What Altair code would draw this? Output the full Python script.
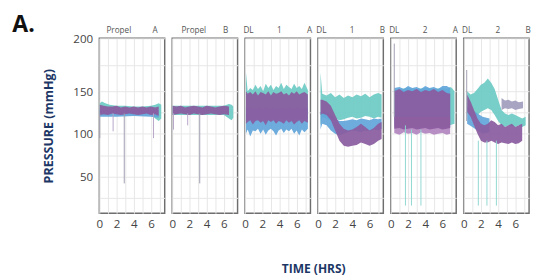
import altair as alt
import pandas as pd

NB = "\u00a0"
PANEL_LABELS = [
    NB * 15 + "Propel" + NB * 10 + "A",
    NB * 15 + "Propel" + NB * 8 + "B",
    NB * 2 + "DL" + NB * 11 + "1" + NB * 12 + "A",
    NB * 2 + "DL" + NB * 11 + "1" + NB * 12 + "B",
    NB * 2 + "DL" + NB * 11 + "2" + NB * 12 + "A",
    NB * 2 + "DL" + NB * 11 + "2" + NB * 12 + "B",
]

# ---- band series: panel index, series, times, low, high (mmHg) ----
P1_T = [0.05, 0.5, 1, 1.5, 2, 2.5, 3, 3.5, 4, 4.5, 5, 5.5, 6, 6.5, 6.9]
P1_PUR_LO = [122, 123, 122, 124, 123, 122, 123, 124, 123, 122, 123, 124, 122, 123, 121]
P1_PUR_HI = [134, 133, 132, 132, 133, 131, 132, 131, 132, 131, 132, 131, 132, 131, 132]
P1_TEAL_T = [0.05, 0.3, 0.7, 1.2, 2, 3, 4, 5, 6, 6.5, 6.9, 7.2]
P1_TEAL_LO = [122, 122, 123, 123, 123, 123, 123, 123, 123, 118, 115, 118]
P1_TEAL_HI = [136, 138, 136, 134, 133, 133, 132, 132, 133, 134, 136, 134]
P1_BLUE_T = [0.05, 2, 4, 6, 6.9]
P1_BLUE_LO = [120, 120, 121, 120, 119]
P1_BLUE_HI = [128, 128, 128, 128, 128]

P2_T = [0.05, 0.5, 1, 1.5, 2, 2.5, 3, 3.5, 4, 4.5, 5, 5.5, 6, 6.6]
P2_PUR_LO = [122, 123, 124, 123, 122, 124, 123, 122, 123, 124, 123, 122, 123, 122]
P2_PUR_HI = [133, 132, 133, 131, 132, 133, 132, 131, 133, 132, 131, 132, 133, 132]
P2_TEAL_T = [0.05, 2, 4, 6, 6.6, 6.9, 7.1]
P2_TEAL_LO = [122, 122, 122, 122, 118, 116, 119]
P2_TEAL_HI = [133, 133, 133, 133, 135, 134, 132]

P3_T = [0.1, 0.3, 0.6, 0.9, 1.2, 1.5, 1.8, 2.1, 2.4, 2.7, 3, 3.3, 3.6, 3.9, 4.2, 4.5,
        4.8, 5.1, 5.4, 5.7, 6, 6.3, 6.6, 6.9, 7.3]
P3_TEAL_HI = [168, 150, 153, 151, 156, 152, 155, 150, 157, 153, 156, 151, 155, 153, 158, 152,
              156, 154, 152, 157, 153, 155, 152, 158, 151]
P3_TEAL_LO = [115, 116, 117, 116, 118, 117, 116, 118, 117, 116, 118, 117, 116, 117, 118, 116,
              117, 118, 116, 117, 118, 116, 117, 118, 117]
P3_BLUE_HI = [132, 130, 131, 130, 129, 131, 130, 129, 131, 130, 129, 131, 130, 129, 131, 130,
              129, 131, 130, 129, 131, 130, 129, 131, 130]
P3_BLUE_LO = [100, 105, 97, 104, 103, 106, 100, 105, 99, 104, 106, 103, 98, 104, 106, 101,
              105, 103, 106, 100, 104, 98, 105, 102, 106]
P3_PUR_HI = [150, 147, 149, 146, 150, 145, 149, 148, 146, 150, 145, 149, 147, 148, 150, 146,
             148, 145, 149, 147, 150, 146, 148, 149, 146]
P3_PUR_LO = [112, 114, 116, 111, 115, 116, 113, 115, 110, 116, 114, 116, 112, 115, 114, 112,
             116, 113, 115, 111, 114, 116, 112, 115, 113]

P4_T = [0.3, 0.5, 1, 1.5, 2, 2.5, 3, 3.5, 4, 4.5, 5, 5.5, 6, 6.5, 7, 7.4]
P4_TEAL_HI = [168, 147, 145, 148, 143, 146, 142, 145, 143, 146, 144, 147, 143, 146, 148, 146]
P4_TEAL_LO = [110, 120, 118, 115, 118, 116, 117, 119, 120, 118, 119, 121, 120, 118, 120, 119]
P4_BLUE_HI = [125, 128, 126, 122, 118, 115, 115, 116, 117, 116, 118, 117, 116, 118, 117, 118]
P4_BLUE_LO = [105, 112, 110, 104, 100, 98, 100, 102, 104, 103, 102, 104, 103, 105, 104, 106]
P4_PUR_HI = [140, 140, 138, 133, 122, 112, 106, 104, 105, 108, 112, 108, 104, 107, 112, 114]
P4_PUR_LO = [122, 124, 122, 116, 104, 92, 86, 85, 86, 87, 90, 88, 86, 88, 92, 94]

P5_T = [0.4, 1, 1.5, 2, 2.5, 3, 3.5, 4, 4.5, 5, 5.5, 6, 6.5, 6.9]
P5_TEAL_T = [0.4, 1, 2, 3, 4, 5, 6, 6.5, 6.9, 7.1, 7.4]
P5_TEAL_HI = [151, 152, 153, 152, 153, 152, 153, 152, 154, 153, 150]
P5_TEAL_LO = [112, 112, 112, 112, 112, 112, 112, 112, 110, 111, 112]
P5_BLUE_HI = [153, 154, 152, 155, 153, 154, 152, 155, 153, 154, 152, 155, 155, 153]
P5_BLUE_LO = [108, 108, 108, 108, 108, 108, 108, 108, 108, 108, 108, 108, 108, 108]
P5_PINK_HI = [120, 120, 120, 120, 120, 120, 120, 120, 120, 120, 120, 120, 120, 120]
P5_PINK_LO = [101, 99, 102, 100, 101, 99, 102, 100, 101, 99, 100, 101, 99, 100]
P5_PUR_HI = [150, 152, 149, 151, 150, 152, 149, 151, 150, 152, 149, 151, 148, 147]
P5_PUR_LO = [106, 107, 105, 106, 107, 105, 106, 107, 105, 106, 107, 105, 106, 107]

P6_T = [0.4, 0.8, 1.2, 1.6, 2, 2.4, 2.8, 3.2, 3.6, 4, 4.4, 4.8, 5.2, 5.6, 6, 6.4, 6.8, 7.2]
P6_TEAL_HI = [150, 146, 148, 152, 156, 158, 162, 158, 152, 140, 128, 124, 122, 124, 122, 120, 118, 120]
P6_TEAL_LO = [125, 120, 118, 122, 126, 128, 130, 128, 122, 115, 110, 108, 110, 109, 108, 110, 108, 110]
P6_BLUE_T = [0.4, 1, 1.6, 2.2, 3]
P6_BLUE_HI = [132, 128, 124, 120, 118]
P6_BLUE_LO = [112, 108, 104, 100, 102]
P6_PUR_T = [0.4, 0.8, 1.2, 1.6, 2, 2.4, 2.8, 3.2, 3.6, 4, 4.4, 4.8, 5.2, 5.6, 6, 6.4, 6.8]
P6_PUR_HI = [146, 138, 128, 118, 112, 110, 112, 116, 114, 110, 112, 108, 110, 112, 108, 110, 112]
P6_PUR_LO = [126, 120, 110, 100, 92, 90, 90, 92, 90, 88, 90, 89, 88, 90, 88, 89, 92]
P6_LAV_T = [4.4, 4.8, 5.2, 5.6, 6, 6.4, 6.9]
P6_LAV_HI = [142, 139, 140, 138, 139, 137, 138]
P6_LAV_LO = [128, 130, 129, 130, 128, 129, 130]

# ---- spikes: panel index, time, low, high, kind ----
SPIKE_PANEL = [0, 0, 0, 0, 1, 1, 1, 4, 4, 4, 4, 5, 5, 5, 5]
SPIKE_T = [0.05, 1.6, 2.9, 6.3, 0.15, 1.8, 3.2, 0.4, 1.7, 2.4, 3.5, 0.35, 1.7, 2.7, 3.8]
SPIKE_LO = [95, 103, 42, 95, 105, 110, 42, 120, 16, 16, 16, 115, 16, 16, 16]
SPIKE_HI = [124, 124, 124, 124, 124, 124, 124, 195, 110, 105, 105, 170, 92, 92, 92]
SPIKE_KIND = ["sgrey", "slav", "sgrey", "slav", "slav", "slav", "sgrey",
              "sgrey", "steal", "steal", "steal", "sgrey", "steal", "steal", "steal"]

rows = []


def add(panel, series, ts, lo, hi):
    for t, a, b in zip(ts, lo, hi):
        rows.append({"panel": PANEL_LABELS[panel], "series": series, "t": t, "lo": a, "hi": b})


add(0, "teal", P1_TEAL_T, P1_TEAL_LO, P1_TEAL_HI)
add(0, "blue", P1_BLUE_T, P1_BLUE_LO, P1_BLUE_HI)
add(0, "purple", P1_T, P1_PUR_LO, P1_PUR_HI)
add(1, "teal", P2_TEAL_T, P2_TEAL_LO, P2_TEAL_HI)
add(1, "purple", P2_T, P2_PUR_LO, P2_PUR_HI)
add(2, "teal", P3_T, P3_TEAL_LO, P3_TEAL_HI)
add(2, "blue", P3_T, P3_BLUE_LO, P3_BLUE_HI)
add(2, "purple", P3_T, P3_PUR_LO, P3_PUR_HI)
add(3, "teal", P4_T, P4_TEAL_LO, P4_TEAL_HI)
add(3, "blue", P4_T, P4_BLUE_LO, P4_BLUE_HI)
add(3, "purple", P4_T, P4_PUR_LO, P4_PUR_HI)
add(4, "teal", P5_TEAL_T, P5_TEAL_LO, P5_TEAL_HI)
add(4, "blue", P5_T, P5_BLUE_LO, P5_BLUE_HI)
add(4, "pink", P5_T, P5_PINK_LO, P5_PINK_HI)
add(4, "purple", P5_T, P5_PUR_LO, P5_PUR_HI)
add(5, "teal", P6_T, P6_TEAL_LO, P6_TEAL_HI)
add(5, "blue", P6_BLUE_T, P6_BLUE_LO, P6_BLUE_HI)
add(5, "purple", P6_PUR_T, P6_PUR_LO, P6_PUR_HI)
add(5, "lav", P6_LAV_T, P6_LAV_LO, P6_LAV_HI)
for p, t, a, b, k in zip(SPIKE_PANEL, SPIKE_T, SPIKE_LO, SPIKE_HI, SPIKE_KIND):
    rows.append({"panel": PANEL_LABELS[p], "series": k, "t": t, "lo": a, "hi": b})

df = pd.DataFrame(rows)

COLORS = {"teal": "#6dcac3", "blue": "#61a5da", "pink": "#b286bf",
          "purple": "#8a5b9e", "lav": "#a19dbd"}

H = 182
xs = alt.X("t:Q", scale=alt.Scale(domain=[0, 7.6], nice=False),
           axis=alt.Axis(values=[0, 1, 2, 3, 4, 5, 6, 7], labelFlush=False,
                         labelExpr="datum.value % 2 === 0 ? datum.label : ''",
                         title=None))
ys = alt.Y("lo:Q", scale=alt.Scale(domain=[7, 150, 200], range=[H, 55, 0], nice=False, zero=False),
           axis=alt.Axis(values=[25, 50, 75, 100, 125, 150, 175, 200],
                         labelFlush=False, labelBaseline="middle",
                         labelExpr="datum.value % 50 === 0 ? datum.label : ''",
                         title="PRESSURE (mmHg)"))

layers = []
for s in ["teal", "blue", "pink", "purple", "lav"]:
    layers.append(
        alt.Chart().mark_area(color=COLORS[s], opacity=0.92)
        .encode(x=xs, y=ys, y2="hi:Q")
        .transform_filter(alt.datum.series == s)
    )
layers.append(
    alt.Chart().mark_rule(strokeWidth=1)
    .encode(x=xs, y=ys, y2="hi:Q",
            color=alt.Color("series:N", legend=None,
                            scale=alt.Scale(domain=["sgrey", "slav", "steal"],
                                            range=["#9d9db0", "#b6a4c8", "#8fd6d0"])))
    .transform_filter(alt.FieldOneOfPredicate(field="series", oneOf=["sgrey", "slav", "steal"]))
)

chart = (
    alt.layer(*layers, data=df)
    .properties(width=68, height=H)
    .facet(
        column=alt.Column("panel:N", sort=PANEL_LABELS,
                          header=alt.Header(title="TIME (HRS)", titleOrient="bottom",
                                            labelOrient="top", labelFontSize=8.5,
                                            labelColor="#555", labelFont="Open Sans",
                                            labelPadding=3,
                                            titleFont="Open Sans", titleFontSize=12.5,
                                            titleFontWeight="bold", titleColor="#1c3766",
                                            titlePadding=25)),
        spacing=5.8,
    )
    .properties(
        title=alt.TitleParams("A.", anchor="start", frame="bounds", fontSize=24,
                              font="Open Sans", fontWeight="bold", color="#111",
                              dx=-32, offset=-11),
        padding={"left": 4, "top": 0, "right": 0, "bottom": 2},
    )
    .configure_view(stroke="#6e6e6e", strokeWidth=1.5)
    .configure_axis(grid=True, gridColor="#e6e6e6", domain=False, ticks=False,
                    labelFont="Open Sans", labelFontSize=12, labelColor="#444",
                    titleFont="Open Sans", titleFontSize=13, titleFontWeight="bold",
                    titleColor="#1c3766")
    .configure_axisY(labelPadding=6, titlePadding=18)
    .configure_axisX(labelPadding=5)
)

chart.save("out.html", embed_options={"renderer": "svg", "actions": False})
